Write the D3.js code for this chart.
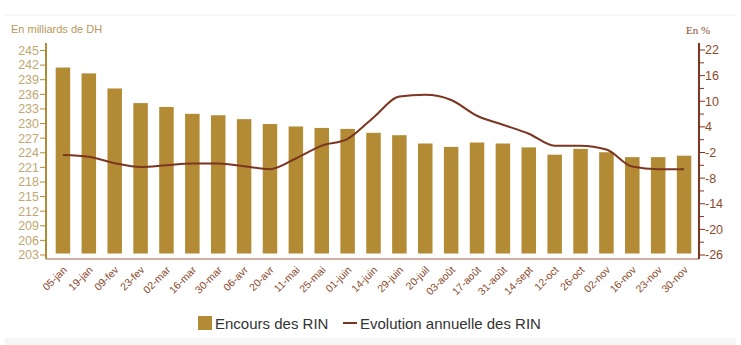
<!DOCTYPE html>
<html><head><meta charset="utf-8">
<script src="https://cdn.jsdelivr.net/npm/d3@7/dist/d3.min.js"></script>
<style>body{margin:0;background:#fff;}svg{display:block;}</style>
</head><body><svg id="c" width="741" height="345"></svg>
<script>
const categories = ["05-jan","19-jan","09-fev","23-fev","02-mar","16-mar","30-mar","06-avr","20-avr","11-mai","25-mai","01-juin","14-juin","29-juin","20-juil","03-août","17-août","31-août","14-sept","12-oct","26-oct","02-nov","16-nov","23-nov","30-nov"];
const encours = [241.5,240.3,237.2,234.2,233.4,232.0,231.7,230.9,229.9,229.4,229.1,228.9,228.1,227.6,225.9,225.2,226.1,225.9,225.1,223.6,224.8,224.1,223.1,223.1,223.4];
const evolution = [-2.6,-3.0,-4.5,-5.4,-5.0,-4.6,-4.6,-5.2,-5.9,-3.4,-0.4,1.2,6.2,11.1,11.5,10.3,6.6,4.5,2.4,-0.4,-0.4,-1.3,-5.3,-5.9,-5.9];
const leftTicks = [203,206,209,212,215,218,221,224,227,230,233,236,239,242,245];
const rightTicks = [-26,-20,-14,-8,-2,4,10,16,22];
const rightMinor = [-23,-17,-11,-5,1,7,13,19];

const svg = d3.select("#c");
const barColor = "#b38b35", lineColor = "#7b3520", leftTxt = "#c2a772", rightTxt = "#8a4a2c";
const plotL = 46, plotR = 699, plotT = 43, plotB = 259;

// frame lines
svg.append("line").attr("x1",5).attr("x2",736).attr("y1",15).attr("y2",15).attr("stroke","#f0f0f0");
svg.append("rect").attr("x",5).attr("y",338).attr("width",731).attr("height",7).attr("fill","#f6f6f6");

const x = d3.scaleBand().domain(categories).range([50,697]).paddingInner(0.44).paddingOuter(0.22);
const yL = d3.scaleLinear().domain([203,245]).range([255,50.5]);
const yR = d3.scaleLinear().domain([-26,22]).range([255,50]);

// bars
svg.append("g").selectAll("rect").data(encours).join("rect")
  .attr("x",(d,i)=>x(categories[i])).attr("width",x.bandwidth())
  .attr("y",d=>yL(d)).attr("height",d=>yL(203)-yL(d)-1.5)
  .attr("fill",barColor);

// x axis line
svg.append("line").attr("x1",plotL).attr("x2",plotR).attr("y1",plotB).attr("y2",plotB).attr("stroke","#a0604a").attr("stroke-width",1.2);
// x labels
svg.append("g").selectAll("text").data(categories).join("text")
  .attr("transform",d=>`translate(${x(d)+x.bandwidth()/2+2},${plotB+9}) rotate(-45)`)
  .attr("text-anchor","end").attr("dy","0.35em")
  .attr("font-family","Liberation Sans, Arial, sans-serif").attr("font-size",10.5)
  .attr("fill",rightTxt).text(d=>d);

// left axis
const gl = svg.append("g").attr("transform",`translate(${plotL},0)`);
gl.append("line").attr("y1",plotT).attr("y2",plotB).attr("stroke",barColor).attr("stroke-width",2);
gl.selectAll("line.t").data(leftTicks).join("line").attr("class","t")
  .attr("x1",-6).attr("x2",0).attr("y1",d=>yL(d)).attr("y2",d=>yL(d)).attr("stroke",barColor);
gl.selectAll("text").data(leftTicks).join("text")
  .attr("x",-7).attr("y",d=>yL(d)).attr("dy","0.35em").attr("text-anchor","end")
  .attr("font-family","Liberation Sans, Arial, sans-serif").attr("font-size",12.5)
  .attr("fill",leftTxt).text(d=>d);

// right axis
const gr = svg.append("g").attr("transform",`translate(${plotR},0)`);
gr.append("line").attr("y1",plotT).attr("y2",plotB).attr("stroke",lineColor).attr("stroke-width",2);
gr.selectAll("line.t").data(rightTicks).join("line").attr("class","t")
  .attr("x1",0).attr("x2",6).attr("y1",d=>yR(d)).attr("y2",d=>yR(d)).attr("stroke",lineColor);
gr.selectAll("line.m").data(rightMinor).join("line").attr("class","m")
  .attr("x1",0).attr("x2",5).attr("y1",d=>yR(d)).attr("y2",d=>yR(d)).attr("stroke",lineColor);
gr.selectAll("text").data(rightTicks).join("text")
  .attr("x",6).attr("y",d=>yR(d)).attr("dy","0.35em")
  .attr("font-family","Liberation Sans, Arial, sans-serif").attr("font-size",12.5)
  .attr("fill",rightTxt).text(d=>d);

// line
const line = d3.line().x((d,i)=>x(categories[i])+x.bandwidth()/2).y(d=>yR(d)).curve(d3.curveMonotoneX);
svg.append("path").datum(evolution).attr("d",line).attr("fill","none").attr("stroke",lineColor).attr("stroke-width",2);

// unit labels
svg.append("text").attr("x",11).attr("y",33).attr("font-family","Liberation Sans, Arial, sans-serif")
  .attr("font-size",11).attr("fill","#b8995a").text("En milliards de DH");
svg.append("text").attr("x",686).attr("y",34).attr("font-family","Liberation Serif, Times New Roman, serif")
  .attr("font-size",11).attr("fill",rightTxt).text("En %");

// legend
svg.append("rect").attr("x",198).attr("y",316).attr("width",14).attr("height",14).attr("fill",barColor);
svg.append("text").attr("x",215).attr("y",328.5).attr("font-family","Liberation Sans, Arial, sans-serif")
  .attr("font-size",15).attr("fill","#333").text("Encours des RIN");
svg.append("line").attr("x1",343).attr("x2",357).attr("y1",323).attr("y2",323).attr("stroke",lineColor).attr("stroke-width",2);
svg.append("text").attr("x",360).attr("y",328.5).attr("font-family","Liberation Sans, Arial, sans-serif")
  .attr("font-size",15).attr("fill","#333").text("Evolution annuelle des RIN");
</script></body></html>
